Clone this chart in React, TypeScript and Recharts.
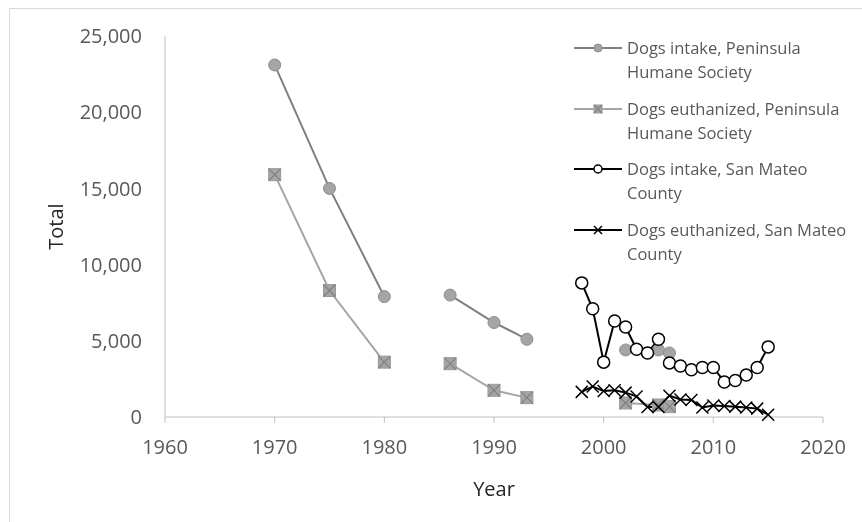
import React from 'react';
import { LineChart, Line, XAxis, YAxis, Legend, Label } from 'recharts';

const xTicks = [1960, 1970, 1980, 1990, 2000, 2010, 2020];
const yTicks = [0, 5000, 10000, 15000, 20000, 25000];

const seriesNames = [
  'Dogs intake, Peninsula Humane Society',
  'Dogs euthanized, Peninsula Humane Society',
  'Dogs intake, San Mateo County',
  'Dogs euthanized, San Mateo County',
];
const legendLines = [
  ['Dogs intake, Peninsula', 'Humane Society'],
  ['Dogs euthanized, Peninsula', 'Humane Society'],
  ['Dogs intake, San Mateo', 'County'],
  ['Dogs euthanized, San Mateo', 'County'],
];

// Peninsula Humane Society (runs separated by gaps in the record)
const phsYears = [1970, 1975, 1980, 1986, 1990, 1993, 2002, 2005, 2006];
const phsIntake = [23100, 15000, 7900, 8000, 6200, 5100, 4400, 4400, 4200];
const phsEuthanized = [15900, 8300, 3600, 3500, 1750, 1270, 920, 790, 680];
const phsRunStarts = [0, 3, 6];

// San Mateo County
const smcYears = [1998, 1999, 2000, 2001, 2002, 2003, 2004, 2005, 2006, 2007, 2008, 2009, 2010, 2011, 2012, 2013, 2014, 2015];
const smcIntake = [8800, 7100, 3600, 6300, 5900, 4450, 4200, 5100, 3550, 3350, 3100, 3250, 3250, 2300, 2400, 2750, 3250, 4600];
const smcEuthanized = [1650, 2000, 1700, 1750, 1600, 1350, 650, 650, 1400, 1150, 1120, 620, 750, 720, 680, 620, 550, 150];

type Pt = { year: number; value: number };
const toPoints = (years: number[], values: number[]): Pt[] => years.map((year, i) => ({ year, value: values[i] }));
const splitRuns = (pts: Pt[], starts: number[]): Pt[][] =>
  starts.map((s, k) => pts.slice(s, k + 1 < starts.length ? starts[k + 1] : pts.length));

const phsIntakeRuns = splitRuns(toPoints(phsYears, phsIntake), phsRunStarts);
const phsEuthRuns = splitRuns(toPoints(phsYears, phsEuthanized), phsRunStarts);
const smcIntakePts = toPoints(smcYears, smcIntake);
const smcEuthPts = toPoints(smcYears, smcEuthanized);

const FONT = '"Open Sans", "Liberation Sans", sans-serif';
const GRAY_DARK = '#7f7f7f';
const GRAY = '#a5a5a5';
const lineColors = [GRAY_DARK, GRAY, '#000000', '#000000'];

const markerShape = (kind: number, cx: number, cy: number, s: number, key?: string | number) => {
  const h = s / 2;
  if (kind === 0)
    return <circle key={key} cx={cx} cy={cy} r={h} fill={GRAY} stroke="#8c8c8c" strokeWidth={1} />;
  if (kind === 1)
    return (
      <g key={key}>
        <rect x={cx - h} y={cy - h} width={s} height={s} fill={GRAY} stroke="#999999" strokeWidth={1} />
        <path d={`M${cx - h} ${cy - h}L${cx + h} ${cy + h}M${cx + h} ${cy - h}L${cx - h} ${cy + h}`} stroke="#808080" strokeWidth={1.2} />
      </g>
    );
  if (kind === 2)
    return <circle key={key} cx={cx} cy={cy} r={h} fill="#ffffff" stroke="#000000" strokeWidth={1.5} />;
  return (
    <path key={key} d={`M${cx - h} ${cy - h}L${cx + h} ${cy + h}M${cx + h} ${cy - h}L${cx - h} ${cy + h}`} stroke="#000000" strokeWidth={1.5} fill="none" />
  );
};

const dotFor = (kind: number, s: number, tag: string) => (p: any) =>
  p.cx == null || p.cy == null ? <g key={`${tag}-${p.index}`} /> : markerShape(kind, p.cx, p.cy, s, `${tag}-${p.index}`);

const renderLegend = () => (
  <div style={{ position: 'relative', width: 284, height: 240, fontSize: 16.5, color: '#595959', fontFamily: FONT }}>
    {legendLines.map((lines, i) => (
      <div key={i} style={{ position: 'absolute', left: 0, top: i * 60.7, width: 284, height: 48 }}>
        <svg width={56} height={24} style={{ position: 'absolute', left: 0, top: 0 }}>
          <line x1={6} x2={54} y1={12} y2={12} stroke={lineColors[i]} strokeWidth={2} />
          {markerShape(i, 30, 12, 8)}
        </svg>
        <div style={{ position: 'absolute', left: 59, top: 0, lineHeight: '24px', whiteSpace: 'nowrap' }}>
          {lines[0]}
          <br />
          {lines[1]}
        </div>
      </div>
    ))}
  </div>
);

const renderTotal = (props: any) => {
  const vb = props.viewBox || { x: 0, y: 0, width: 0, height: 0 };
  const x = vb.x + 47;
  const y = vb.y + vb.height / 2;
  return (
    <text x={x} y={y} transform={`rotate(-90 ${x} ${y})`} textAnchor="middle" dominantBaseline="central" fontSize={20} fill="#262626" fontFamily={FONT}>
      Total
    </text>
  );
};

const renderYear = (props: any) => {
  const vb = props.viewBox || { x: 0, y: 0, width: 0, height: 0 };
  return (
    <text x={vb.x + vb.width / 2} y={vb.y + 71} textAnchor="middle" dominantBaseline="central" fontSize={20} fill="#262626" fontFamily={FONT}>
      Year
    </text>
  );
};

export default function App() {
  return (
    <div style={{ position: 'relative', width: 846, height: 506 }}>
      <div style={{ position: 'fixed', left: 9, top: 8, right: 0, bottom: 0, borderLeft: '1px solid #d9d9d9', borderTop: '1px solid #d9d9d9' }} />
      <LineChart width={846} height={506} margin={{ top: 28, right: 31, left: 0, bottom: 0 }} style={{ fontFamily: FONT }}>
        <XAxis
          type="number"
          dataKey="year"
          domain={[1960, 2020]}
          ticks={xTicks}
          allowDataOverflow
          height={97}
          tickSize={6}
          tickMargin={17}
          axisLine={{ stroke: '#bfbfbf', strokeWidth: 1 }}
          tickLine={{ stroke: '#bfbfbf', strokeWidth: 1 }}
          tick={{ fill: '#595959', fontSize: 20, fontFamily: FONT }}
        >
          <Label content={renderYear} />
        </XAxis>
        <YAxis
          type="number"
          dataKey="value"
          domain={[0, 25000]}
          ticks={yTicks}
          width={157}
          tickSize={0}
          tickMargin={23}
          tickLine={false}
          axisLine={{ stroke: '#bfbfbf', strokeWidth: 1 }}
          tick={{ fill: '#595959', fontSize: 20, fontFamily: FONT }}
          tickFormatter={(v: number) => v.toLocaleString('en-US')}
        >
          <Label content={renderTotal} />
        </YAxis>
        <Legend layout="vertical" align="center" verticalAlign="middle" wrapperStyle={{ left: 560, top: 28, width: 284, height: 240 }} content={renderLegend} />
        {phsIntakeRuns.map((run, k) => (
          <Line
            key={`phsI${k}`}
            data={run}
            dataKey="value"
            name={seriesNames[0]}
            legendType={k === 0 ? 'line' : 'none'}
            stroke={GRAY_DARK}
            strokeWidth={2}
            dot={dotFor(0, 12, `phsI${k}`)}
            activeDot={false}
            isAnimationActive={false}
          />
        ))}
        {phsEuthRuns.map((run, k) => (
          <Line
            key={`phsE${k}`}
            data={run}
            dataKey="value"
            name={seriesNames[1]}
            legendType={k === 0 ? 'line' : 'none'}
            stroke={GRAY}
            strokeWidth={2}
            dot={dotFor(1, 12, `phsE${k}`)}
            activeDot={false}
            isAnimationActive={false}
          />
        ))}
        <Line
          data={smcIntakePts}
          dataKey="value"
          name={seriesNames[2]}
          stroke="#000000"
          strokeWidth={2}
          dot={dotFor(2, 12, 'smcI')}
          activeDot={false}
          isAnimationActive={false}
        />
        <Line
          data={smcEuthPts}
          dataKey="value"
          name={seriesNames[3]}
          stroke="#000000"
          strokeWidth={2}
          dot={dotFor(3, 12, 'smcE')}
          activeDot={false}
          isAnimationActive={false}
        />
      </LineChart>
    </div>
  );
}
